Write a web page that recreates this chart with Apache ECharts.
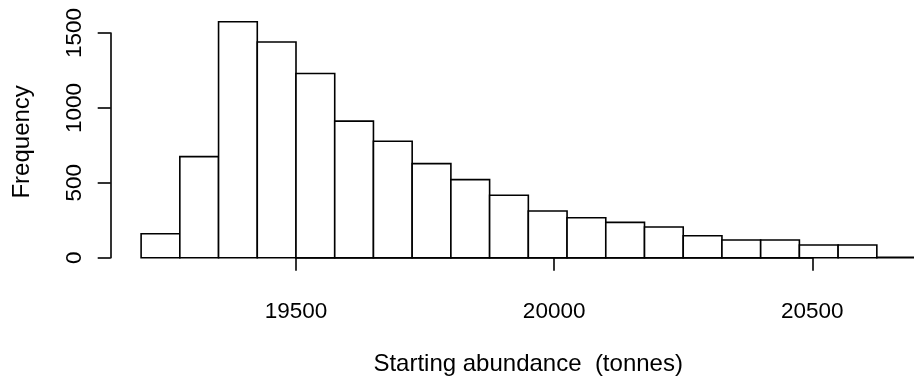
<!DOCTYPE html>
<html>
<head>
<meta charset="utf-8">
<script src="https://cdn.jsdelivr.net/npm/echarts@6/dist/echarts.min.js"></script>
<style>
  html, body { margin: 0; padding: 0; background: #fff; }
  #chart { width: 914px; height: 386px; }
</style>
</head>
<body>
<div id="chart"></div>
<script>
// Histogram bin edges (tonnes) and the count in each bin
const breaks = [19200, 19275, 19350, 19425, 19500, 19575, 19650, 19725, 19800, 19875,
                19950, 20025, 20100, 20175, 20250, 20325, 20400, 20475, 20550, 20625, 20700];
const counts = [160, 675, 1575, 1440, 1230, 912, 777, 628, 521, 417,
                312, 267, 236, 205, 147, 118, 118, 85, 85, 3];
const xTicks = [19500, 20000, 20500];
const yTicks = [0, 500, 1000, 1500];

const xTitle = 'Starting abundance  (tonnes)';
const yTitle = 'Frequency';

const bins = counts.map((c, i) => [breaks[i], breaks[i + 1], c]);

const font = '"Liberation Sans", Arial, Helvetica, sans-serif';
const ink = '#000';
const stroke = 1.6;

const chart = echarts.init(document.getElementById('chart'), null, { renderer: 'canvas' });
chart.setOption({
  animation: false,
  backgroundColor: '#fff',
  grid: { left: 296, top: 33, right: 101.7, bottom: 128.3, containLabel: false },
  xAxis: {
    type: 'value',
    min: xTicks[0],
    max: xTicks[xTicks.length - 1],
    interval: xTicks[1] - xTicks[0],
    offset: 9,
    axisLine: { show: true, lineStyle: { color: ink, width: stroke } },
    axisTick: { show: true, inside: false, length: 13, lineStyle: { color: ink, width: stroke } },
    axisLabel: { margin: 34, color: ink, fontSize: 22.5, fontFamily: font, formatter: v => String(v) },
    splitLine: { show: false },
    name: xTitle,
    nameLocation: 'middle',
    nameGap: 86,
    nameTextStyle: { color: ink, fontSize: 24, fontFamily: font, padding: [0, 52, 0, 0] }
  },
  yAxis: {
    type: 'value',
    min: yTicks[0],
    max: yTicks[yTicks.length - 1],
    interval: yTicks[1] - yTicks[0],
    offset: 185.3,
    axisLine: { show: true, lineStyle: { color: ink, width: stroke } },
    axisTick: { show: true, inside: false, length: 13, lineStyle: { color: ink, width: stroke } },
    axisLabel: { rotate: 90, margin: 24, color: ink, fontSize: 22.5, fontFamily: font, formatter: v => String(v) },
    splitLine: { show: false },
    name: yTitle,
    nameLocation: 'middle',
    nameRotate: 90,
    nameGap: 76,
    nameTextStyle: { color: ink, fontSize: 24, fontFamily: font, padding: [0, 0, 0, 7] }
  },
  series: [{
    type: 'custom',
    clip: false,
    data: bins,
    encode: { x: [0, 1], y: 2 },
    renderItem: function (params, api) {
      const top = api.coord([api.value(0), api.value(2)]);
      const base = api.coord([api.value(1), 0]);
      return {
        type: 'rect',
        shape: { x: top[0], y: top[1], width: base[0] - top[0], height: base[1] - top[1] },
        style: { fill: '#fff', stroke: ink, lineWidth: stroke }
      };
    }
  }]
});
</script>
</body>
</html>
